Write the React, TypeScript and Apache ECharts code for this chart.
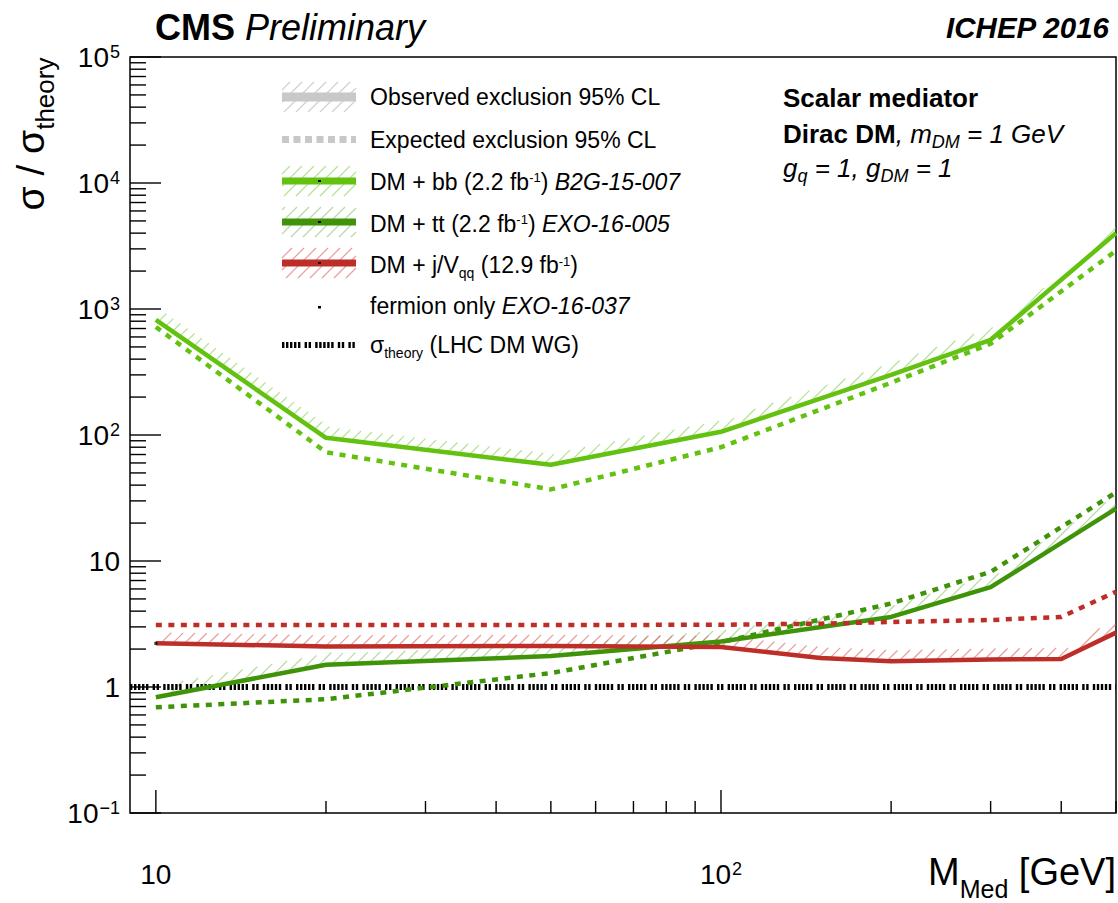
import React, { useEffect, useRef } from 'react';
import * as echarts from 'echarts';

const FONT = '"Liberation Sans", Arial, Helvetica, sans-serif';

// ---------------- data ----------------
const massBB = [10, 20, 50, 100, 200, 300, 500];
const bbObserved = [820, 95, 58, 106, 300, 570, 4000];
const bbExpected = [720, 73, 37, 80, 260, 530, 2900];

const massTT = [10, 20, 50, 100, 200, 300, 500];
const ttObserved = [0.83, 1.5, 1.76, 2.3, 3.6, 6.2, 26];
const ttExpected = [0.69, 0.8, 1.29, 2.27, 4.6, 8.2, 35];

const massJV = [10, 20, 50, 100, 150, 200, 300, 400, 500];
const jvObserved = [2.22, 2.1, 2.12, 2.08, 1.7, 1.6, 1.65, 1.67, 2.7];
const jvExpected = [3.1, 3.1, 3.1, 3.12, 3.18, 3.28, 3.4, 3.6, 5.7];

const theoryMass = [9, 500];
const theoryRatio = [1, 1];

const fermionOnlyMass = [10];
const fermionOnlyRatio = [2.22];

// ---------------- axes ----------------
const xMin = 9;
const xMax = 500;
const yMin = 0.1;
const yMax = 100000;
const xTickValues = [10, 100];
const xTickLabels = ['{b|10}', '{b|10}{sup|2}'];
const xMinorTicks = [20, 30, 40, 50, 60, 70, 80, 90, 200, 300, 400, 500];
const yTickValues = [0.1, 1, 10, 100, 1000, 10000, 100000];
const yTickLabels = [
  '{b|10}{sup|\u22121}',
  '{b|1}',
  '{b|10}',
  '{b|10}{sup|2}',
  '{b|10}{sup|3}',
  '{b|10}{sup|4}',
  '{b|10}{sup|5}',
];
const yMinorMultipliers = [2, 3, 4, 5, 6, 7, 8, 9];
const yMinorTicks = yTickValues.slice(0, -1).flatMap((d) => yMinorMultipliers.map((m) => m * d));

// ---------------- colours ----------------
const C_BB = '#62c20f';
const C_TT = '#3f9308';
const C_JV = '#be2e28';
const H_BB = 'rgba(110,200,50,0.5)';
const H_TT = 'rgba(90,170,50,0.42)';
const H_JV = 'rgba(215,80,80,0.55)';
const H_GRAY = 'rgba(150,150,150,0.45)';
const THEORY_DASH = [2.4, 1.6, 2.4, 1.6, 2.4, 1.6, 2.4, 1.6, 2.4, 4.2, 2.4, 1.6, 2.4, 4.2];

const lookup = (vals: number[], labels: string[]) => (v: number) => {
  for (let i = 0; i < vals.length; i++) {
    if (Math.abs(Math.log10(v) - Math.log10(vals[i])) < 1e-6) return labels[i];
  }
  return '';
};

const pairs = (xs: number[], ys: number[]) => xs.map((x, i) => [x, ys[i]]);

// hatched band on the excluded (upper) side of an observed line
const hatchSeries = (xs: number[], ys: number[], color: string, h = 11, spacing = 12, maxLen = 60) => ({
  type: 'custom',
  coordinateSystem: 'cartesian2d',
  silent: true,
  clip: true,
  z: 1,
  data: pairs(xs, ys),
  renderItem: (params: any, api: any) => {
    const i = params.dataIndex;
    const children: any[] = [];
    if (i >= xs.length - 1) return { type: 'group', children };
    const a = api.coord([xs[i], ys[i]]);
    const b = api.coord([xs[i + 1], ys[i + 1]]);
    const dx = b[0] - a[0];
    const dy = b[1] - a[1];
    const len = Math.hypot(dx, dy);
    const tx = dx / len;
    const ty = dy / len;
    const dn = (tx + ty) / Math.SQRT2;
    const L = dn > h / maxLen ? h / dn : maxLen;
    const u = a[0] + a[1];
    const v = b[0] + b[1];
    if (Math.abs(v - u) < 1e-6) return { type: 'group', children };
    const lo = Math.min(u, v);
    const hi = Math.max(u, v);
    const s = L / Math.SQRT2;
    for (let c = Math.ceil(lo / spacing) * spacing; c < hi; c += spacing) {
      const t = (c - u) / (v - u);
      const px = a[0] + t * dx;
      const py = a[1] + t * dy;
      children.push({
        type: 'line',
        shape: { x1: px, y1: py, x2: px + s, y2: py - s },
        style: { stroke: color, lineWidth: 1.3 },
      });
    }
    return { type: 'group', children };
  },
});

const lineSeries = (xs: number[], ys: number[], color: string, dashed: boolean, z = 3) => ({
  type: 'line',
  data: pairs(xs, ys),
  symbol: 'none',
  showSymbol: false,
  silent: true,
  z,
  lineStyle: { color, width: 4.5, type: dashed ? [6, 6.5] : 'solid', cap: 'butt' },
});

const xTickSeries = (vals: number[], len: number) => ({
  type: 'custom',
  coordinateSystem: 'cartesian2d',
  silent: true,
  clip: false,
  z: 5,
  data: vals.map((v) => [v, yMin]),
  renderItem: (params: any, api: any) => {
    const p = api.coord([api.value(0), api.value(1)]);
    return { type: 'line', shape: { x1: p[0], y1: p[1], x2: p[0], y2: p[1] - len }, style: { stroke: '#000', lineWidth: 1.4 } };
  },
});

const yTickSeries = (vals: number[], len: number) => ({
  type: 'custom',
  coordinateSystem: 'cartesian2d',
  silent: true,
  clip: false,
  z: 5,
  data: vals.map((v) => [xMin, v]),
  renderItem: (params: any, api: any) => {
    const p = api.coord([api.value(0), api.value(1)]);
    return { type: 'line', shape: { x1: p[0], y1: p[1], x2: p[0] + len, y2: p[1] }, style: { stroke: '#000', lineWidth: 1.4 } };
  },
});

// ---------------- graphic helpers ----------------
const hatchBox = (x0: number, y0: number, x1: number, y1: number, color: string, spacing = 12) => {
  const els: any[] = [];
  for (let c = Math.ceil((x0 + y0) / spacing) * spacing; c <= x1 + y1; c += spacing) {
    const xa = Math.max(x0, c - y1);
    const xb = Math.min(x1, c - y0);
    if (xb <= xa) continue;
    els.push({ type: 'line', silent: true, shape: { x1: xa, y1: c - xa, x2: xb, y2: c - xb }, style: { stroke: color, lineWidth: 1.2 } });
  }
  return els;
};

const tok = (size: number, extra: any = {}) => ({ fontSize: size, fontFamily: FONT, fill: '#000', verticalAlign: 'top', ...extra });

const txt = (x: number, yCenter: number, size: number, text: string, rich: any, align = 'left') => ({
  type: 'text',
  x,
  y: yCenter - size / 2,
  silent: true,
  style: {
    text,
    rich,
    fontSize: size,
    fontFamily: FONT,
    fill: '#000',
    align,
    textAlign: align,
    verticalAlign: 'top',
    textVerticalAlign: 'top',
  },
});

const LF = 23;
const legendRich = {
  r: tok(LF),
  i: tok(LF, { fontStyle: 'italic' }),
  sup: tok(13, { padding: [1, 0, 0, 0] }),
  sub: tok(14, { padding: [12, 0, 0, 0] }),
};

function buildGraphic() {
  const els: any[] = [];
  const X0 = 282;
  const X1 = 356;
  const TX = 370;
  const rows = [97, 139.5, 181, 222, 263, 307, 345];
  const textRows = [97, 139.5, 181.5, 223.5, 265, 306, 345];

  // row 0: observed (gray band + hatch)
  els.push(...hatchBox(X0, rows[0] - 15, X1, rows[0] + 15, H_GRAY));
  els.push({ type: 'rect', silent: true, shape: { x: X0, y: rows[0] - 4.5, width: X1 - X0, height: 9 }, style: { fill: '#c8c8c8' } });
  // row 1: expected (gray dashed)
  els.push({ type: 'line', silent: true, shape: { x1: X0, y1: rows[1], x2: X1, y2: rows[1] }, style: { stroke: '#c8c8c8', lineWidth: 7, lineDash: [7, 4.5] } });
  // rows 2-4: coloured bands
  const cols = [
    [C_BB, H_BB],
    [C_TT, H_TT],
    [C_JV, H_JV],
  ];
  cols.forEach(([c, hc], k) => {
    const y = rows[2 + k];
    els.push(...hatchBox(X0, y - 15, X1, y + 15, hc));
    els.push({ type: 'rect', silent: true, shape: { x: X0, y: y - 3.5, width: X1 - X0, height: 7 }, style: { fill: c } });
    els.push({ type: 'rect', silent: true, shape: { x: 318, y: y - 1, width: 3, height: 2 }, style: { fill: '#000' } });
  });
  // row 5: dot
  els.push({ type: 'rect', silent: true, shape: { x: 318, y: rows[5] - 1, width: 3, height: 2.5 }, style: { fill: '#000' } });
  // row 6: theory dotted
  els.push({ type: 'line', silent: true, shape: { x1: X0, y1: rows[6], x2: X1, y2: rows[6] }, style: { stroke: '#000', lineWidth: 6, lineDash: THEORY_DASH } });

  const legendTexts = [
    '{r|Observed exclusion 95% CL}',
    '{r|Expected exclusion 95% CL}',
    '{r|DM + bb (2.2 fb}{sup|-1}{r|) }{i|B2G-15-007}',
    '{r|DM + tt (2.2 fb}{sup|-1}{r|) }{i|EXO-16-005}',
    '{r|DM + j/V}{sub|qq}{r| (12.9 fb}{sup|-1}{r|)}',
    '{r|fermion only }{i|EXO-16-037}',
    '{r|\u03c3}{sub|theory}{r| (LHC DM WG)}',
  ];
  legendTexts.forEach((t, k) => els.push(txt(TX, textRows[k], LF, t, legendRich)));

  // header
  els.push(
    txt(155, 27, 36, '{b|CMS}{b2| }{i|Preliminary}', {
      b: tok(36, { fontWeight: 'bold' }),
      b2: tok(36),
      i: tok(36, { fontStyle: 'italic' }),
    })
  );
  els.push(txt(1109, 27.5, 29.5, '{b|ICHEP 2016}', { b: tok(29.5, { fontWeight: 'bold', fontStyle: 'italic' }) }, 'right'));

  // right-hand text block
  const RF = 26;
  const rRich = {
    b: tok(RF, { fontWeight: 'bold' }),
    i: tok(RF, { fontStyle: 'italic' }),
    isub: tok(18, { fontStyle: 'italic', padding: [12, 0, 0, 0] }),
  };
  els.push(txt(783, 98, RF, '{b|Scalar mediator}', rRich));
  els.push(txt(783, 134, RF, '{b|Dirac DM}{i|, m}{isub|DM}{i| = 1 GeV}', rRich));
  els.push(txt(783, 168, RF, '{i|g}{isub|q}{i| = 1, g}{isub|DM}{i| = 1}', rRich));

  // y-axis title (rotated)
  els.push({
    type: 'text',
    x: 34,
    y: 134,
    rotation: Math.PI / 2,
    silent: true,
    style: {
      text: '{s|\u03c3 / \u03c3}{sub|theory}',
      rich: { s: tok(39), sub: tok(26, { padding: [21, 0, 0, 0] }) },
      fontSize: 39,
      fontFamily: FONT,
      fill: '#000',
      align: 'center',
      textAlign: 'center',
      verticalAlign: 'middle',
      textVerticalAlign: 'middle',
    },
  });

  // x-axis title
  els.push(
    txt(1116, 872, 38, '{m|M}{sub|Med}{m| [GeV]}', { m: tok(38), sub: tok(25, { padding: [23, 0, 0, 0] }) }, 'right')
  );
  return els;
}

const axisRich = {
  b: { fontSize: 28, fontFamily: FONT, color: '#000', verticalAlign: 'top' },
  sup: { fontSize: 18, fontFamily: FONT, color: '#000', verticalAlign: 'top', padding: [0, 0, 0, 1] },
};

function buildOption(): any {
  return {
    animation: false,
    backgroundColor: '#ffffff',
    grid: {
      left: 130,
      right: 2,
      top: 57,
      bottom: 90,
      show: true,
      borderColor: '#000',
      borderWidth: 1.5,
      backgroundColor: 'transparent',
      containLabel: false,
      outerBoundsMode: 'none',
    },
    xAxis: {
      type: 'log',
      logBase: 10,
      min: xMin,
      max: xMax,
      axisLine: { show: false },
      axisTick: { show: false },
      minorTick: { show: false },
      splitLine: { show: false },
      axisLabel: {
        interval: 0,
        margin: 47,
        formatter: lookup(xTickValues, xTickLabels),
        rich: axisRich,
        color: '#000',
        fontFamily: FONT,
        fontSize: 28,
        hideOverlap: false,
      },
    },
    yAxis: {
      type: 'log',
      logBase: 10,
      min: yMin,
      max: yMax,
      axisLine: { show: false },
      axisTick: { show: false },
      minorTick: { show: false },
      splitLine: { show: false },
      axisLabel: {
        interval: 0,
        margin: 10,
        formatter: lookup(yTickValues, yTickLabels),
        rich: axisRich,
        color: '#000',
        fontFamily: FONT,
        fontSize: 28,
        hideOverlap: false,
      },
    },
    graphic: { elements: buildGraphic() },
    series: [
      {
        type: 'line',
        data: pairs(theoryMass, theoryRatio),
        symbol: 'none',
        silent: true,
        z: 2,
        lineStyle: { color: '#000', width: 6, type: THEORY_DASH, cap: 'butt' },
      },
      hatchSeries(massBB, bbObserved, H_BB),
      hatchSeries(massTT, ttObserved, H_TT),
      hatchSeries(massJV, jvObserved, H_JV),
      lineSeries(massBB, bbExpected, C_BB, true),
      lineSeries(massBB, bbObserved, C_BB, false),
      lineSeries(massTT, ttExpected, C_TT, true),
      lineSeries(massTT, ttObserved, C_TT, false),
      lineSeries(massJV, jvExpected, C_JV, true),
      lineSeries(massJV, jvObserved, C_JV, false),
      {
        type: 'scatter',
        data: pairs(fermionOnlyMass, fermionOnlyRatio),
        symbol: 'rect',
        symbolSize: [3, 3],
        silent: true,
        z: 6,
        itemStyle: { color: '#000' },
      },
      xTickSeries(xTickValues, 23),
      xTickSeries(xMinorTicks, 12),
      yTickSeries(yTickValues, 31),
      yTickSeries(yMinorTicks, 16),
    ],
  };
}

export default function App() {
  const ref = useRef<HTMLDivElement>(null);
  useEffect(() => {
    if (!ref.current) return;
    const chart = echarts.init(ref.current, null, { renderer: 'svg' });
    chart.setOption(buildOption());
    return () => chart.dispose();
  }, []);
  return (
    <div
      ref={ref}
      style={{ position: 'absolute', left: 0, top: 0, width: 1118, height: 903, background: '#ffffff' }}
    />
  );
}
